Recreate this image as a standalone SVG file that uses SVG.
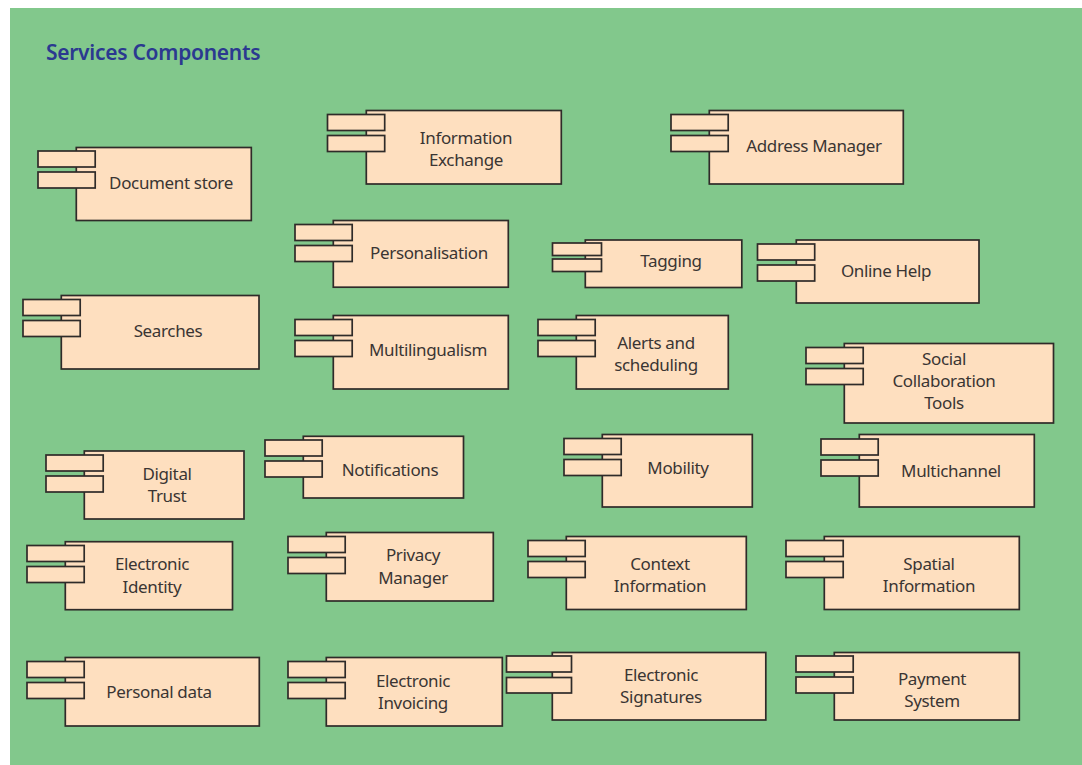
<svg xmlns="http://www.w3.org/2000/svg" width="1082" height="765" viewBox="0 0 1082 765">
<style>
.b{fill:#fedfbf;stroke:#2f2b29;stroke-width:1.7}
text{font-family:"Noto Sans","Open Sans",sans-serif;font-size:17px;fill:#3a3533;text-anchor:middle;letter-spacing:-.35px}
.t{font-size:21px;font-weight:600;fill:#2b3990;text-anchor:start;letter-spacing:-.28px}
</style>
<rect width="1082" height="765" fill="#fff"/>
<rect x="10" y="8" width="1072" height="757" fill="#82c88c"/>
<text class="t" x="46" y="60">Services Components</text>
<g id="document-store"><rect class="b" x="76.300" y="147.500" width="175" height="73"/><rect class="b" x="38" y="151" width="57.200" height="16"/><rect class="b" x="38" y="172" width="57.200" height="16"/><text x="171" y="189">Document store</text></g>
<g id="information-exchange"><rect class="b" x="366.300" y="110.500" width="195" height="73.500"/><rect class="b" x="327.500" y="114.500" width="57.200" height="16"/><rect class="b" x="327.500" y="135.500" width="57.200" height="16"/><text x="466" y="144">Information</text><text x="466" y="166">Exchange</text></g>
<g id="address-manager"><rect class="b" x="709.300" y="110.500" width="194" height="73.500"/><rect class="b" x="671" y="114.500" width="57.200" height="16"/><rect class="b" x="671" y="135.500" width="57.200" height="16"/><text x="814" y="152">Address Manager</text></g>
<g id="personalisation"><rect class="b" x="333.300" y="220.500" width="175" height="66.700"/><rect class="b" x="295" y="224.500" width="57.200" height="16"/><rect class="b" x="295" y="245.500" width="57.200" height="16"/><text x="429" y="259">Personalisation</text></g>
<g id="tagging"><rect class="b" x="585.300" y="240" width="156.500" height="47.500"/><rect class="b" x="552.500" y="243" width="49" height="12.500"/><rect class="b" x="552.500" y="259" width="49" height="12.500"/><text x="671" y="267">Tagging</text></g>
<g id="online-help"><rect class="b" x="796.300" y="240" width="182.700" height="63"/><rect class="b" x="757.500" y="244" width="57.200" height="16"/><rect class="b" x="757.500" y="265" width="57.200" height="16"/><text x="886" y="277">Online Help</text></g>
<g id="searches"><rect class="b" x="61.300" y="295.500" width="197.700" height="73.500"/><rect class="b" x="23" y="299.500" width="57.200" height="16"/><rect class="b" x="23" y="320.500" width="57.200" height="16"/><text x="168" y="337">Searches</text></g>
<g id="multilingualism"><rect class="b" x="333.300" y="315.500" width="175" height="73.500"/><rect class="b" x="295" y="319.500" width="57.200" height="16"/><rect class="b" x="295" y="340.500" width="57.200" height="16"/><text x="428" y="356">Multilingualism</text></g>
<g id="alerts-and-scheduling"><rect class="b" x="576.300" y="315.500" width="152" height="73.500"/><rect class="b" x="538" y="319.500" width="57.200" height="16"/><rect class="b" x="538" y="340.500" width="57.200" height="16"/><text x="656" y="349">Alerts and</text><text x="656" y="371">scheduling</text></g>
<g id="social-collaboration-tools"><rect class="b" x="844.300" y="343.500" width="209.200" height="79.500"/><rect class="b" x="806" y="347.500" width="57.200" height="16"/><rect class="b" x="806" y="368.500" width="57.200" height="16"/><text x="944" y="365">Social</text><text x="944" y="387">Collaboration</text><text x="944" y="409">Tools</text></g>
<g id="digital-trust"><rect class="b" x="84.300" y="451" width="159.700" height="68"/><rect class="b" x="46" y="455" width="57.200" height="16"/><rect class="b" x="46" y="476" width="57.200" height="16"/><text x="167" y="480">Digital</text><text x="167" y="502">Trust</text></g>
<g id="notifications"><rect class="b" x="303.300" y="436.300" width="160.200" height="61.700"/><rect class="b" x="265" y="440" width="57.200" height="16"/><rect class="b" x="265" y="461" width="57.200" height="16"/><text x="390" y="476">Notifications</text></g>
<g id="mobility"><rect class="b" x="602.300" y="434.500" width="150" height="72.500"/><rect class="b" x="564" y="438.500" width="57.200" height="16"/><rect class="b" x="564" y="459.500" width="57.200" height="16"/><text x="678" y="474">Mobility</text></g>
<g id="multichannel"><rect class="b" x="859.300" y="434.500" width="175" height="72.500"/><rect class="b" x="821" y="439" width="57.200" height="16"/><rect class="b" x="821" y="460" width="57.200" height="16"/><text x="951" y="477">Multichannel</text></g>
<g id="electronic-identity"><rect class="b" x="65.300" y="541.700" width="167.200" height="68"/><rect class="b" x="27" y="545.500" width="57.200" height="16"/><rect class="b" x="27" y="566.500" width="57.200" height="16"/><text x="152" y="570">Electronic</text><text x="152" y="593">Identity</text></g>
<g id="privacy-manager"><rect class="b" x="326.300" y="532.500" width="167" height="68.500"/><rect class="b" x="288" y="536.500" width="57.200" height="16"/><rect class="b" x="288" y="557.500" width="57.200" height="16"/><text x="413" y="561">Privacy</text><text x="413" y="584">Manager</text></g>
<g id="context-information"><rect class="b" x="566.300" y="536.500" width="180" height="73"/><rect class="b" x="528" y="540.500" width="57.200" height="16"/><rect class="b" x="528" y="561.500" width="57.200" height="16"/><text x="660" y="570">Context</text><text x="660" y="592">Information</text></g>
<g id="spatial-information"><rect class="b" x="824.300" y="536.500" width="195" height="73"/><rect class="b" x="786" y="540.500" width="57.200" height="16"/><rect class="b" x="786" y="561.500" width="57.200" height="16"/><text x="929" y="570">Spatial</text><text x="929" y="592">Information</text></g>
<g id="personal-data"><rect class="b" x="65.300" y="657.500" width="194" height="68.500"/><rect class="b" x="27" y="661.500" width="57.200" height="16"/><rect class="b" x="27" y="682.500" width="57.200" height="16"/><text x="159" y="698">Personal data</text></g>
<g id="electronic-invoicing"><rect class="b" x="326.300" y="657.500" width="176" height="68.500"/><rect class="b" x="288" y="661.500" width="57.200" height="16"/><rect class="b" x="288" y="682.500" width="57.200" height="16"/><text x="413" y="687">Electronic</text><text x="413" y="709">Invoicing</text></g>
<g id="electronic-signatures"><rect class="b" x="552.300" y="652.500" width="213.500" height="67.500"/><rect class="b" x="506.500" y="656" width="65" height="16"/><rect class="b" x="506.500" y="677.500" width="65" height="15.500"/><text x="661" y="681">Electronic</text><text x="661" y="703">Signatures</text></g>
<g id="payment-system"><rect class="b" x="834.300" y="652.500" width="185" height="67.500"/><rect class="b" x="796" y="656" width="57.200" height="16"/><rect class="b" x="796" y="677" width="57.200" height="16"/><text x="932" y="685">Payment</text><text x="932" y="707">System</text></g>
</svg>
